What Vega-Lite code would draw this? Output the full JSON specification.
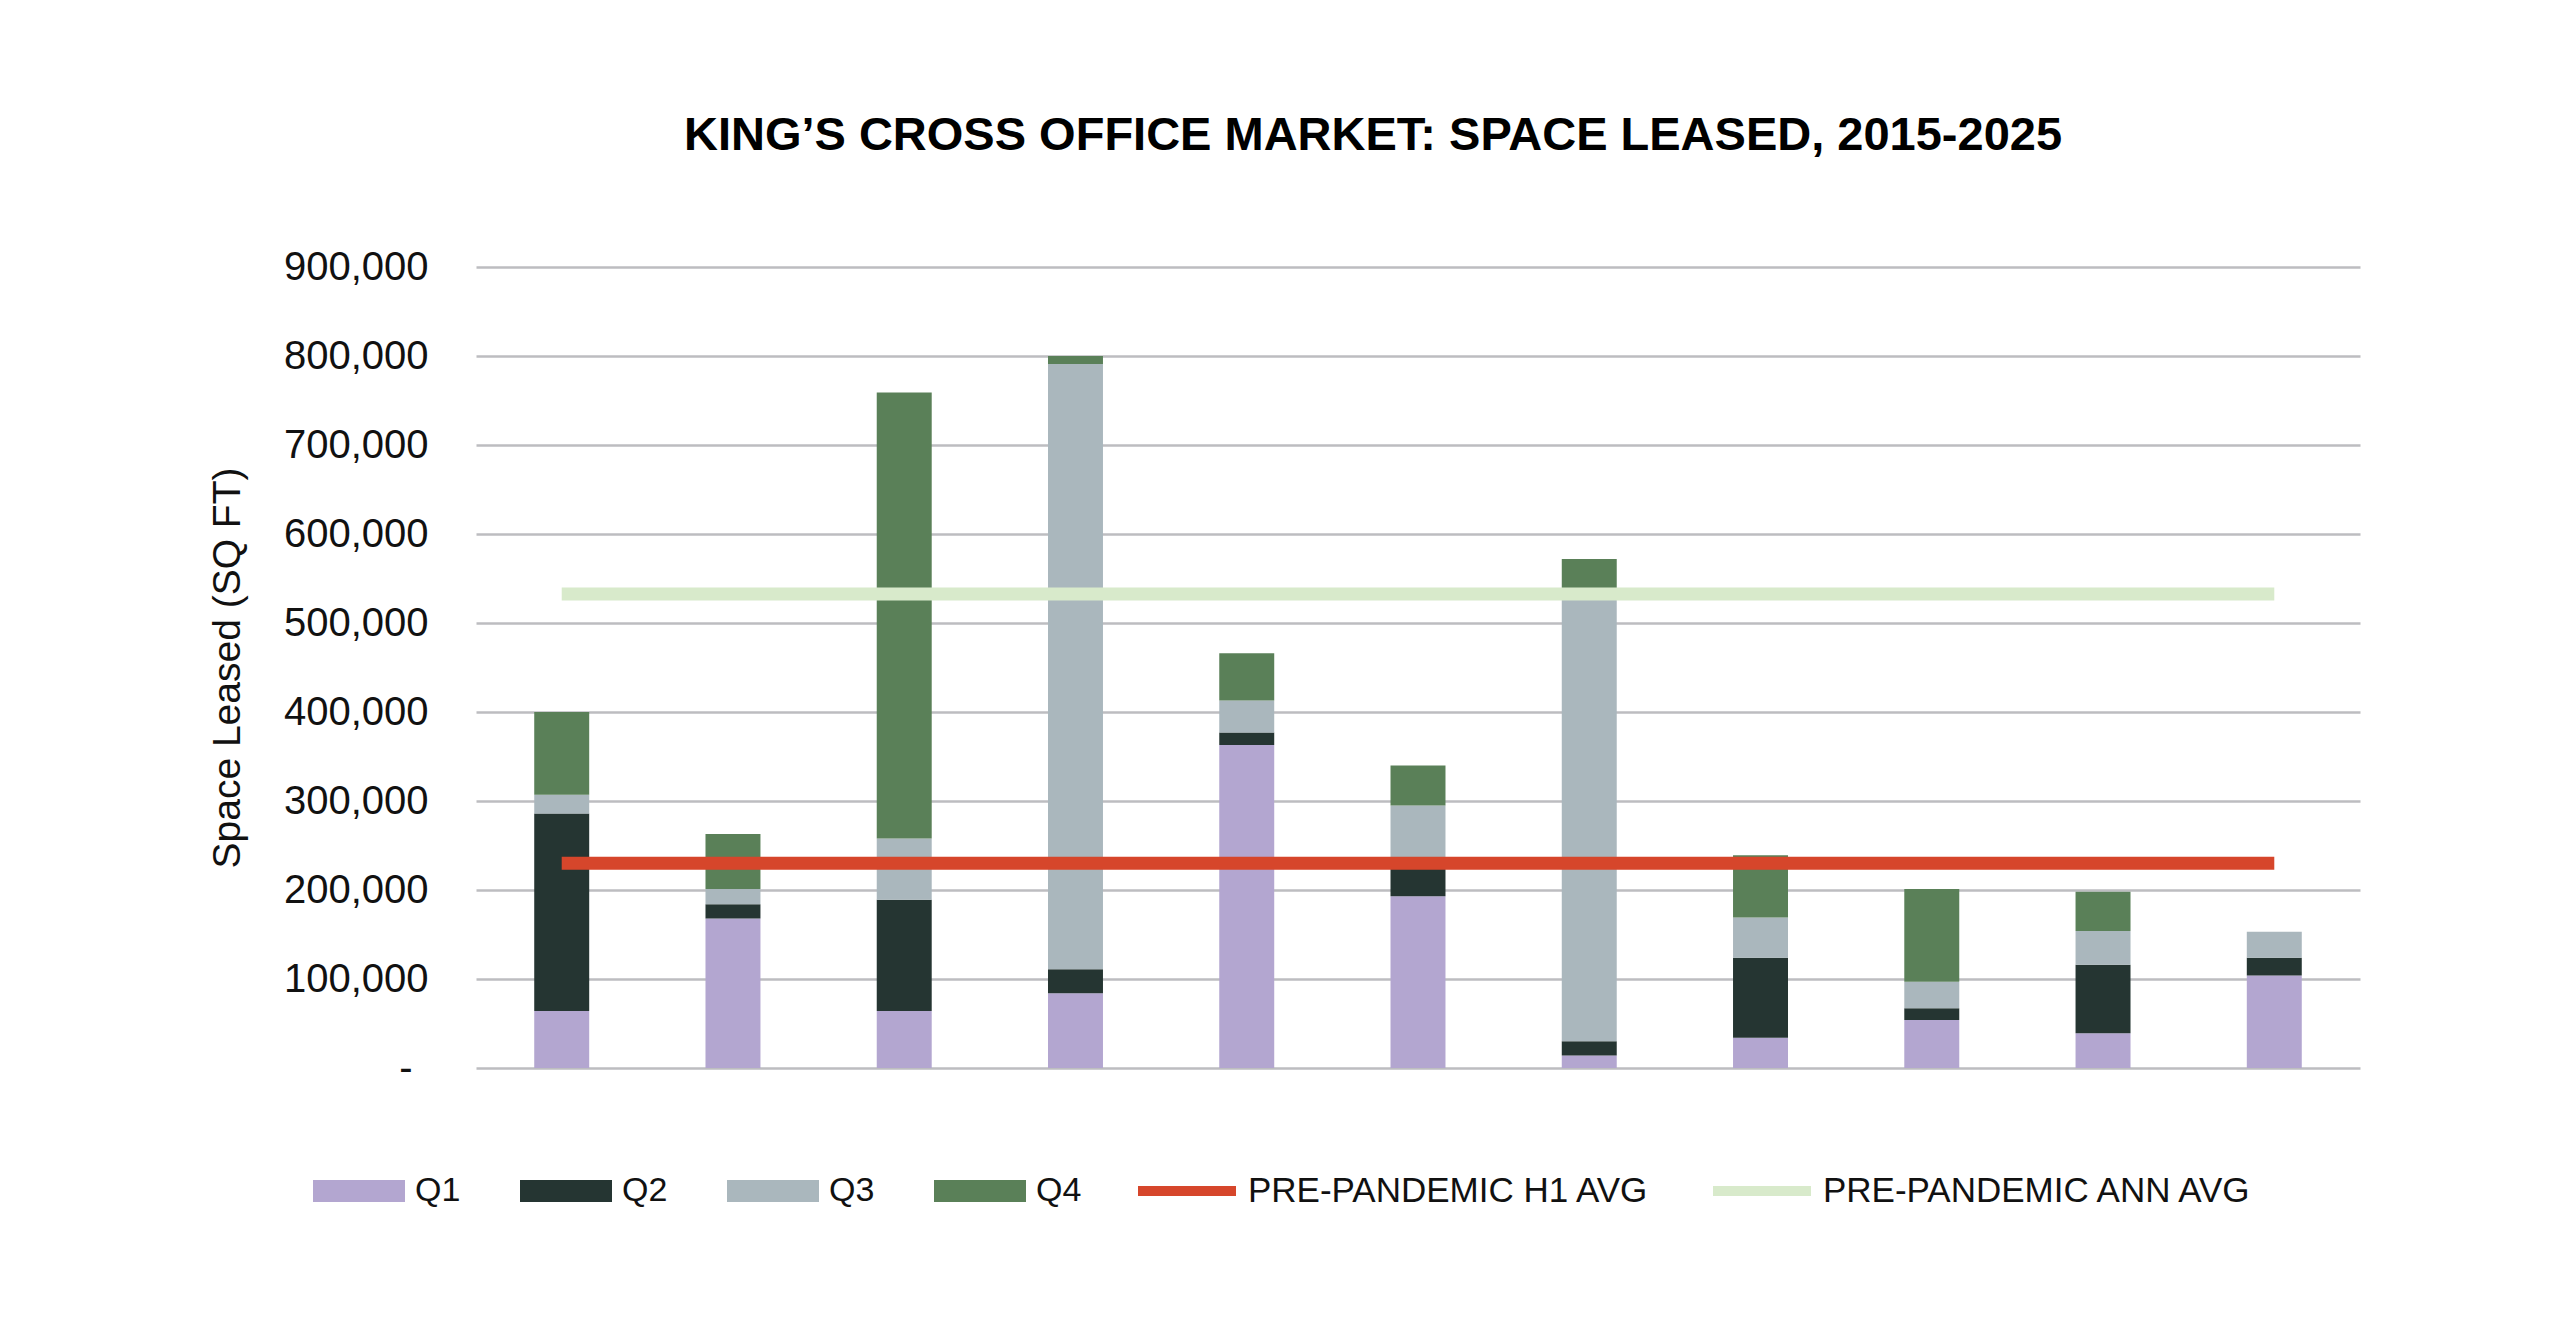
{
  "$schema": "https://vega.github.io/schema/vega-lite/v6.json",
  "description": "King's Cross office market: space leased by quarter, 2015-2025, with pre-pandemic averages",
  "width": 1884,
  "height": 801,
  "autosize": {"type": "none"},
  "padding": {"left": 476, "top": 267, "right": 200, "bottom": 269},
  "background": "white",
  "title": {
    "text": "KING’S CROSS OFFICE MARKET: SPACE LEASED, 2015-2025",
    "font": "Liberation Sans",
    "fontSize": 47,
    "fontWeight": "bold",
    "color": "black",
    "anchor": "middle",
    "frame": "group",
    "dx": -45,
    "offset": 87
  },
  "datasets": {
    "bars": [
      {"year": "2015", "quarter": "Q1", "value": 64000},
      {"year": "2015", "quarter": "Q2", "value": 222000},
      {"year": "2015", "quarter": "Q3", "value": 21000},
      {"year": "2015", "quarter": "Q4", "value": 93000},
      {"year": "2016", "quarter": "Q1", "value": 168000},
      {"year": "2016", "quarter": "Q2", "value": 16000},
      {"year": "2016", "quarter": "Q3", "value": 17000},
      {"year": "2016", "quarter": "Q4", "value": 62000},
      {"year": "2017", "quarter": "Q1", "value": 64000},
      {"year": "2017", "quarter": "Q2", "value": 125000},
      {"year": "2017", "quarter": "Q3", "value": 69000},
      {"year": "2017", "quarter": "Q4", "value": 501000},
      {"year": "2018", "quarter": "Q1", "value": 84000},
      {"year": "2018", "quarter": "Q2", "value": 27000},
      {"year": "2018", "quarter": "Q3", "value": 680000},
      {"year": "2018", "quarter": "Q4", "value": 9000},
      {"year": "2019", "quarter": "Q1", "value": 363000},
      {"year": "2019", "quarter": "Q2", "value": 14000},
      {"year": "2019", "quarter": "Q3", "value": 36000},
      {"year": "2019", "quarter": "Q4", "value": 53000},
      {"year": "2020", "quarter": "Q1", "value": 193000},
      {"year": "2020", "quarter": "Q2", "value": 37000},
      {"year": "2020", "quarter": "Q3", "value": 65000},
      {"year": "2020", "quarter": "Q4", "value": 45000},
      {"year": "2021", "quarter": "Q1", "value": 14000},
      {"year": "2021", "quarter": "Q2", "value": 16000},
      {"year": "2021", "quarter": "Q3", "value": 502000},
      {"year": "2021", "quarter": "Q4", "value": 40000},
      {"year": "2022", "quarter": "Q1", "value": 34000},
      {"year": "2022", "quarter": "Q2", "value": 90000},
      {"year": "2022", "quarter": "Q3", "value": 45000},
      {"year": "2022", "quarter": "Q4", "value": 70000},
      {"year": "2023", "quarter": "Q1", "value": 54000},
      {"year": "2023", "quarter": "Q2", "value": 13000},
      {"year": "2023", "quarter": "Q3", "value": 30000},
      {"year": "2023", "quarter": "Q4", "value": 104000},
      {"year": "2024", "quarter": "Q1", "value": 39000},
      {"year": "2024", "quarter": "Q2", "value": 77000},
      {"year": "2024", "quarter": "Q3", "value": 38000},
      {"year": "2024", "quarter": "Q4", "value": 44000},
      {"year": "2025", "quarter": "Q1", "value": 104000},
      {"year": "2025", "quarter": "Q2", "value": 20000},
      {"year": "2025", "quarter": "Q3", "value": 29000}
    ],
    "averages": [
      {"year": "2015", "series": "PRE-PANDEMIC H1 AVG", "value": 230000},
      {"year": "2025", "series": "PRE-PANDEMIC H1 AVG", "value": 230000},
      {"year": "2015", "series": "PRE-PANDEMIC ANN AVG", "value": 532500},
      {"year": "2025", "series": "PRE-PANDEMIC ANN AVG", "value": 532500}
    ]
  },
  "encoding": {
    "x": {
      "field": "year",
      "type": "ordinal",
      "axis": null,
      "scale": {"paddingInner": 0.679, "paddingOuter": 0.34}
    },
    "y": {
      "field": "value",
      "type": "quantitative",
      "scale": {"domain": [0, 900000], "nice": false},
      "axis": {
        "title": "Space Leased (SQ FT)",
        "values": [0, 100000, 200000, 300000, 400000, 500000, 600000, 700000, 800000, 900000],
        "labelExpr": "datum.value == 0 ? '-' : format(datum.value, ',')",
        "grid": true,
        "gridColor": "#bdbdc0",
        "gridWidth": 2.5,
        "domain": false,
        "ticks": false,
        "labelPadding": {"condition": {"test": "datum.value == 0", "value": 64}, "value": 48},
        "labelFont": "Liberation Sans",
        "labelFontSize": 40,
        "labelColor": "#111111",
        "titleFont": "Liberation Sans",
        "titleFontSize": 39,
        "titleFontWeight": "normal",
        "titleColor": "#111111",
        "titlePadding": 36
      }
    }
  },
  "layer": [
    {
      "data": {"name": "bars"},
      "mark": {"type": "bar"},
      "encoding": {
        "fill": {
          "field": "quarter",
          "type": "nominal",
          "scale": {
            "domain": ["Q1", "Q2", "Q3", "Q4"],
            "range": ["#b3a6d0", "#253532", "#aab7bd", "#5a8058"]
          },
          "legend": {
            "title": null,
            "orient": "none",
            "direction": "horizontal",
            "legendX": -163,
            "legendY": 878,
            "symbolType": "M-1,-0.24H1V0.24H-1Z",
            "symbolSize": 8464,
            "symbolStrokeWidth": 0,
            "symbolOpacity": 1,
            "labelOffset": 10,
            "columnPadding": 59
          }
        },
        "order": {"field": "quarter"}
      }
    },
    {
      "data": {"name": "averages"},
      "mark": {"type": "line", "strokeWidth": 13, "strokeCap": "butt"},
      "encoding": {
        "stroke": {
          "field": "series",
          "type": "nominal",
          "scale": {
            "domain": ["PRE-PANDEMIC H1 AVG", "PRE-PANDEMIC ANN AVG"],
            "range": ["#d6462b", "#d8eacb"]
          },
          "legend": {
            "title": null,
            "orient": "none",
            "direction": "horizontal",
            "legendX": 657,
            "legendY": 870,
            "symbolType": "stroke",
            "symbolSize": 9604,
            "symbolStrokeWidth": 10,
            "labelOffset": 7,
            "labelFontSize": 35,
            "columnPadding": 43
          }
        }
      }
    }
  ],
  "config": {
    "view": {"stroke": null},
    "legend": {
      "padding": 0,
      "labelFont": "Liberation Sans",
      "labelFontSize": 34,
      "labelColor": "#111111",
      "labelLimit": 1000
    }
  }
}
